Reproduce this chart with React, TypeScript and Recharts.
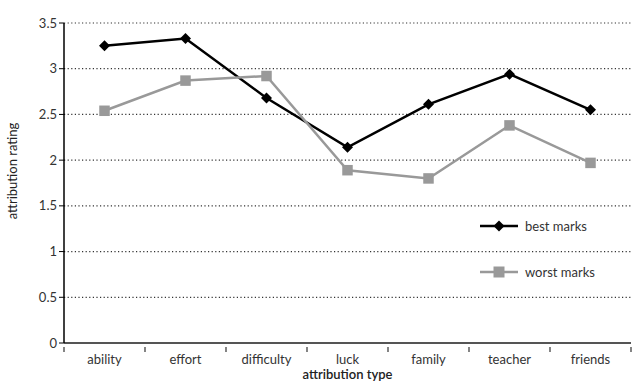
import React from "react";
import {
  CartesianGrid,
  Line,
  LineChart,
  XAxis,
  YAxis,
} from "recharts";

const categories = ["ability", "effort", "difficulty", "luck", "family", "teacher", "friends"];
const bestMarks = [3.25, 3.33, 2.68, 2.14, 2.61, 2.94, 2.55];
const worstMarks = [2.54, 2.87, 2.92, 1.89, 1.8, 2.38, 1.97];
const yTicks = [0, 0.5, 1, 1.5, 2, 2.5, 3, 3.5];

const data = categories.map((name, i) => ({
  name,
  best: bestMarks[i],
  worst: worstMarks[i],
}));

const FONT = "Lato, 'Noto Sans', sans-serif";
const WIDTH = 640;
const HEIGHT = 381;
const LEFT = 64;
const RIGHT = 9;
const BAND = (WIDTH - LEFT - RIGHT) / categories.length;

function Diamond(props: any) {
  const { cx, cy } = props;
  if (cx == null || cy == null) return null;
  const r = 5.5;
  return (
    <polygon
      points={`${cx},${cy - r} ${cx + r},${cy} ${cx},${cy + r} ${cx - r},${cy}`}
      fill="#000"
    />
  );
}

function Square(props: any) {
  const { cx, cy } = props;
  if (cx == null || cy == null) return null;
  const s = 10.5;
  return <rect x={cx - s / 2} y={cy - s / 2} width={s} height={s} fill="#999" />;
}

function CategoryTick(props: any) {
  const { x, y, payload, index } = props;
  const last = index === categories.length - 1;
  return (
    <g>
      <line x1={x - BAND / 2} x2={x - BAND / 2} y1={y - 4} y2={y + 1} stroke="#333" strokeWidth={1.2} />
      {last && (
        <line x1={x + BAND / 2} x2={x + BAND / 2} y1={y - 4} y2={y + 1} stroke="#333" strokeWidth={1.2} />
      )}
      <text x={x} y={y + 13} textAnchor="middle" fill="#333" fontSize={13} fontFamily={FONT}>
        {payload.value}
      </text>
    </g>
  );
}

function LegendBox() {
  const rows = [
    { label: "best marks", color: "#000", marker: "diamond" },
    { label: "worst marks", color: "#999", marker: "square" },
  ];
  return (
    <div
      style={{
        position: "absolute",
        left: 480,
        top: 216,
        fontFamily: FONT,
        fontSize: 13,
        color: "#333",
      }}
    >
      {rows.map((row, i) => (
        <div
          key={row.label}
          style={{ display: "flex", alignItems: "center", height: 20, marginBottom: i === 0 ? 26 : 0 }}
        >
          <svg width={39} height={14} style={{ marginRight: 6 }}>
            <line x1={0} x2={38} y1={7} y2={7} stroke={row.color} strokeWidth={2.5} />
            {row.marker === "diamond" ? (
              <polygon points="19,1.5 24.5,7 19,12.5 13.5,7" fill={row.color} />
            ) : (
              <rect x={13.5} y={1.5} width={11} height={11} fill={row.color} />
            )}
          </svg>
          <span>{row.label}</span>
        </div>
      ))}
    </div>
  );
}

export default function App() {
  return (
    <div style={{ position: "absolute", left: 0, top: 0, width: WIDTH, height: HEIGHT, background: "#fff" }}>
      <LineChart
        width={WIDTH}
        height={HEIGHT}
        data={data}
        margin={{ top: 23, right: RIGHT, bottom: 8, left: 0 }}
      >
        <CartesianGrid
          vertical={false}
          stroke="#333"
          strokeDasharray="1.2 2.4"
          strokeWidth={1.2}
        />
        <XAxis
          dataKey="name"
          scale="band"
          height={30}
          axisLine={{ stroke: "#555", strokeWidth: 2 }}
          tickLine={false}
          tick={<CategoryTick />}
          interval={0}
          label={{
            value: "attribution type",
            position: "insideBottom",
            offset: -6,
            fill: "#222",
            fontSize: 13,
            fontWeight: 600,
            fontFamily: FONT,
          }}
        />
        <YAxis
          width={LEFT}
          domain={[0, 3.5]}
          ticks={yTicks}
          interval={0}
          axisLine={{ stroke: "#000", strokeWidth: 1.5 }}
          tickLine={{ stroke: "#000" }}
          tickSize={5}
          tick={{ fill: "#333", fontSize: 13, fontFamily: FONT }}
          label={{
            value: "attribution rating",
            angle: -90,
            position: "insideLeft",
            offset: 12,
            dy: -12,
            fill: "#222",
            fontSize: 13,
            fontFamily: FONT,
            style: { textAnchor: "middle" },
          }}
        />
        <Line
          type="linear"
          dataKey="best"
          name="best marks"
          stroke="#000"
          strokeWidth={2.5}
          dot={<Diamond />}
          activeDot={false}
          isAnimationActive={false}
        />
        <Line
          type="linear"
          dataKey="worst"
          name="worst marks"
          stroke="#999"
          strokeWidth={2.5}
          dot={<Square />}
          activeDot={false}
          isAnimationActive={false}
        />
      </LineChart>
      <LegendBox />
    </div>
  );
}
